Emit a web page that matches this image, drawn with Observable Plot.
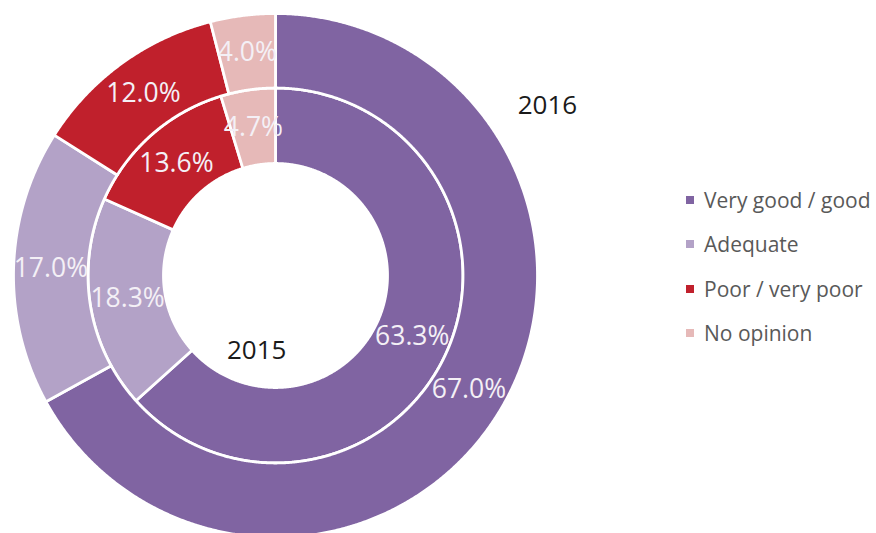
<!DOCTYPE html>
<html><head><meta charset="utf-8">
<script src="https://cdn.jsdelivr.net/npm/d3@7"></script>
<script src="https://cdn.jsdelivr.net/npm/@observablehq/plot@0.6"></script>
<style>
body{margin:0;background:#fff;}
#wrap{position:relative;width:876px;height:533px;overflow:hidden;}
.legend{position:absolute;left:686px;top:178px;font-family:"Open Sans",sans-serif;font-size:21px;color:#595959;}
.item{display:flex;align-items:center;height:44.3px;white-space:nowrap;}
.sw{width:8px;height:8px;margin-right:10px;flex:none;}
</style></head><body><div id="wrap"></div>
<script>
const categories = ["Very good / good", "Adequate", "Poor / very poor", "No opinion"];
const values2016 = [67.0, 17.0, 12.0, 4.0];
const values2015 = [63.3, 18.3, 13.6, 4.7];
const years = ["2015", "2016"];

const palette = ["#8064A2", "#B3A2C7", "#C0202C", "#E6B9B8"];
const rings = {"2015": [0.4275, 0.7156], "2016": [0.7156, 1.0]};

const seriesByYear = {"2015": values2015, "2016": values2016};
const pie = d3.pie().sort(null).value(d => d.value);

const polys = [];
const labels = [];
for (const yr of years) {
  const rows = categories.map((c, i) => ({year: yr, category: c, value: seriesByYear[yr][i]}));
  const [r0, r1] = rings[yr];
  for (const a of pie(rows)) {
    const key = yr + "|" + a.data.category;
    const n = Math.max(2, Math.ceil((a.endAngle - a.startAngle) / 0.005));
    for (let k = 0; k <= n; k++) {
      const t = a.startAngle + (a.endAngle - a.startAngle) * k / n;
      polys.push({key, category: a.data.category, x: r1 * Math.sin(t), y: r1 * Math.cos(t)});
    }
    for (let k = n; k >= 0; k--) {
      const t = a.startAngle + (a.endAngle - a.startAngle) * k / n;
      polys.push({key, category: a.data.category, x: r0 * Math.sin(t), y: r0 * Math.cos(t)});
    }
    const m = (a.startAngle + a.endAngle) / 2, rm = (r0 + r1) / 2;
    labels.push({x: rm * Math.sin(m), y: rm * Math.cos(m), text: a.data.value.toFixed(1) + "%"});
  }
}

const yearLabels = [
  {x: 1.038, y: 0.65, text: years[1]},
  {x: -0.072, y: -0.286, text: years[0]}
];

const chart = Plot.plot({
  width: 876, height: 533,
  margin: 0,
  x: {domain: [-275/262, 601/262], range: [0, 876], axis: null},
  y: {domain: [-258/262, 275/262], range: [533, 0], axis: null},
  color: {domain: categories, range: palette},
  style: {background: "white"},
  marks: [
    Plot.line(polys, {x: "x", y: "y", z: "key", fill: "category", stroke: "white", strokeWidth: 2.8, curve: "linear-closed"}),
    Plot.text(labels, {x: "x", y: "y", text: "text", fill: "#F4F0F6", fontSize: 26.5, fontFamily: "Open Sans", fontWeight: 400}),
    Plot.text(yearLabels, {x: "x", y: "y", text: "text", fill: "#1a1a1a", fontSize: 26, fontFamily: "Open Sans"})
  ]
});

const wrap = document.getElementById("wrap");
wrap.appendChild(chart);
const legend = document.createElement("div");
legend.className = "legend";
categories.forEach((c, i) => {
  const it = document.createElement("div");
  it.className = "item";
  const sw = document.createElement("span");
  sw.className = "sw";
  sw.style.background = palette[i];
  const tx = document.createElement("span");
  tx.textContent = c;
  it.appendChild(sw); it.appendChild(tx);
  legend.appendChild(it);
});
wrap.appendChild(legend);
</script></body></html>
